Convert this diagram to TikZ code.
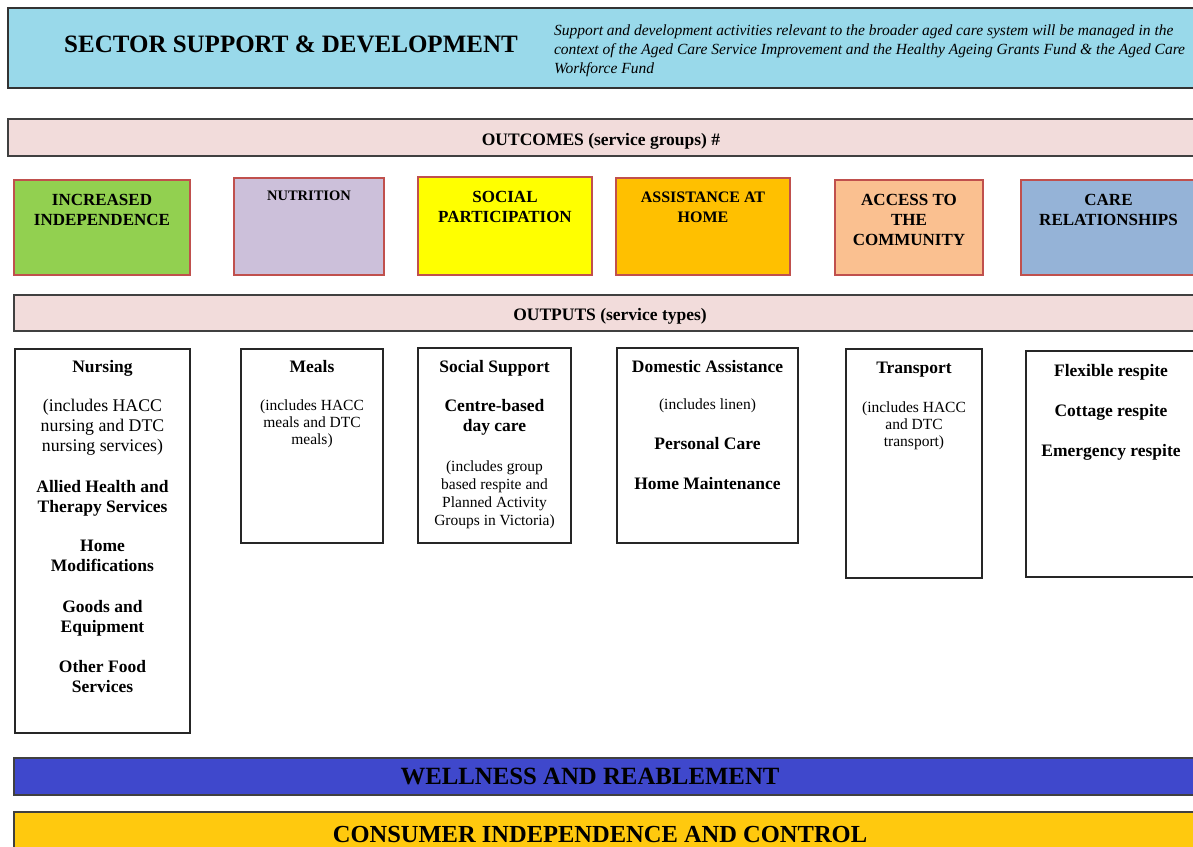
\documentclass[tikz,border=0pt]{standalone}
\usepackage{fontspec}
\setmainfont{Liberation Serif}
\usetikzlibrary{positioning}

\definecolor{sky}{RGB}{153,217,234}
\definecolor{blush}{RGB}{242,220,219}
\definecolor{brick}{RGB}{192,80,77}
\definecolor{leaf}{RGB}{146,208,80}
\definecolor{lilac}{RGB}{204,192,218}
\definecolor{lemon}{RGB}{255,255,0}
\definecolor{amber}{RGB}{255,192,0}
\definecolor{peach}{RGB}{250,192,144}
\definecolor{steel}{RGB}{149,179,215}
\definecolor{royal}{RGB}{63,72,204}
\definecolor{gold}{RGB}{255,201,14}

\newcommand{\txtsize}[2]{\fontsize{#1}{#2}\selectfont}

\begin{document}
\begin{tikzpicture}[x=1pt,y=-1pt,node distance=20pt,
		bar/.style={draw=black!75,line width=1.8pt,anchor=north west,inner sep=0pt,outer sep=0pt},
		grp/.style={draw=brick,line width=2.6pt,anchor=north west,inner sep=0pt,outer sep=0pt},
		typebox/.style={draw=black!85,line width=1.4pt,fill=white,anchor=north west,inner sep=0pt,outer sep=0pt},
		txt/.style={inner sep=0pt,outer sep=0pt,align=center,execute at begin node=\strut,execute at end node=\strut},
		grptxt/.style={txt,font=\txtsize{17}{20}\bfseries},
		head/.style={txt,font=\txtsize{17.5}{20}\bfseries},
		note/.style={txt,font=\txtsize{15.5}{17}},
		banner/.style={anchor=base,inner sep=0pt,font=\txtsize{17.5}{20}\bfseries}]
	\useasboundingbox (0,0) rectangle (1193,846);
	\fill[white] (0,0) rectangle (1193,846);
	\clip (0,0) rectangle (1193,846);

	% sector support banner
	\node (sector) [bar,fill=sky,draw=black!80,line width=2.6pt,minimum width=1200pt,minimum height=80pt] at (8,8) {};
	\node (title) [banner,font=\txtsize{25}{30}\bfseries] at (291,52.3) {SECTOR SUPPORT \& DEVELOPMENT};
	\node (remit) [txt,anchor=north west,align=left,font=\txtsize{15.5}{19}\itshape] at (554,24.5)
		{Support and development activities relevant to the broader aged care system will be managed in the\\
		context of the Aged Care Service Improvement and the Healthy Ageing Grants Fund \& the Aged Care\\
		Workforce Fund};

	% outcomes
	\node (outcomes) [bar,fill=blush,minimum width=1190pt,minimum height=37pt] at (8,119) {};
	\node (outcomeslbl) [banner] at (601,145.5) {OUTCOMES (service groups) \#};

	\node (g1) [grp,fill=leaf,minimum width=176pt,minimum height=95pt] at (14,180) {};
	\node (g2) [grp,fill=lilac,minimum width=150pt,minimum height=97pt] at (234,178) {};
	\node (g3) [grp,fill=lemon,minimum width=174pt,minimum height=98pt] at (418,177) {};
	\node (g4) [grp,fill=amber,minimum width=174pt,minimum height=97pt] at (616,178) {};
	\node (g5) [grp,fill=peach,minimum width=148pt,minimum height=95pt] at (835,180) {};
	\node (g6) [grp,fill=steel,minimum width=175pt,minimum height=95pt] at (1021,180) {};

	\node (g1t) [grptxt,below=14.5pt of g1.north] {INCREASED\\INDEPENDENCE};
	\node (g2t) [grptxt,font=\txtsize{14.5}{17}\bfseries,below=11pt of g2.north] {NUTRITION};
	\node (g3t) [grptxt,below=14.5pt of g3.north] {SOCIAL\\PARTICIPATION};
	\node (g4t) [grptxt,font=\txtsize{16}{20}\bfseries,below=13.5pt of g4.north] {ASSISTANCE AT\\HOME};
	\node (g5t) [grptxt,below=14.5pt of g5.north] {ACCESS TO\\THE\\COMMUNITY};
	\node (g6t) [grptxt,below=14.5pt of g6.north] {CARE\\RELATIONSHIPS};

	% outputs
	\node (outputs) [bar,fill=blush,minimum width=1192pt,minimum height=36pt] at (14,295) {};
	\node (outputslbl) [banner] at (610,320.5) {OUTPUTS (service types)};

	\node (o1) [typebox,minimum width=175pt,minimum height=384pt] at (15,349) {};
	\node (o2) [typebox,minimum width=142pt,minimum height=194pt] at (241,349) {};
	\node (o3) [typebox,minimum width=153pt,minimum height=195pt] at (418,348) {};
	\node (o4) [typebox,minimum width=181pt,minimum height=195pt] at (617,348) {};
	\node (o5) [typebox,minimum width=136pt,minimum height=229pt] at (846,349) {};
	\node (o6) [typebox,minimum width=170pt,minimum height=226pt] at (1026,351) {};

	\node (nursing) [head,below=9pt of o1.north] {Nursing};
	\node (nursingx) [txt,font=\txtsize{17.8}{20},below=21.5pt of nursing] {(includes HACC\\nursing and DTC\\nursing services)};
	\node (allied) [head,below=22.5pt of nursingx] {Allied Health and\\Therapy Services};
	\node (homemod) [head,below=22pt of allied] {Home\\Modifications};
	\node (goods) [head,below=22pt of homemod] {Goods and\\Equipment};
	\node (food) [head,below=22pt of goods] {Other Food\\Services};

	\node (meals) [head,below=9pt of o2.north] {Meals};
	\node (mealsx) [note,below=22pt of meals] {(includes HACC\\meals and DTC\\meals)};

	\node (social) [head,below=10pt of o3.north] {Social Support};
	\node (centre) [head,below=21.5pt of social] {Centre-based\\day care};
	\node (centrex) [note,font=\txtsize{15.5}{18},below=23pt of centre] {(includes group\\based respite and\\Planned Activity\\Groups in Victoria)};

	\node (domestic) [head,below=10pt of o4.north] {Domestic Assistance};
	\node (domesticx) [note,below=of domestic] {(includes linen)};
	\node (personal) [head,below=of domesticx] {Personal Care};
	\node (homemaint) [head,below=of personal] {Home Maintenance};

	\node (transport) [head,below=10pt of o5.north] {Transport};
	\node (transportx) [note,below=22.5pt of transport] {(includes HACC\\and DTC\\transport)};

	\node (flexible) [head,below=11pt of o6.north] {Flexible respite};
	\node (cottage) [head,below=of flexible] {Cottage respite};
	\node (emergency) [head,below=of cottage] {Emergency respite};

	% principles along the bottom
	\node (wellness) [bar,fill=royal,minimum width=1190pt,minimum height=37pt] at (14,758) {};
	\node (wellnesslbl) [banner,font=\txtsize{24.8}{30}\bfseries] at (590,784) {WELLNESS AND REABLEMENT};
	\node (consumer) [bar,fill=gold,minimum width=1190pt,minimum height=50pt] at (14,812) {};
	\node (consumerlbl) [banner,font=\txtsize{24.5}{30}\bfseries] at (600,842) {CONSUMER INDEPENDENCE AND CONTROL};
\end{tikzpicture}
\end{document}
